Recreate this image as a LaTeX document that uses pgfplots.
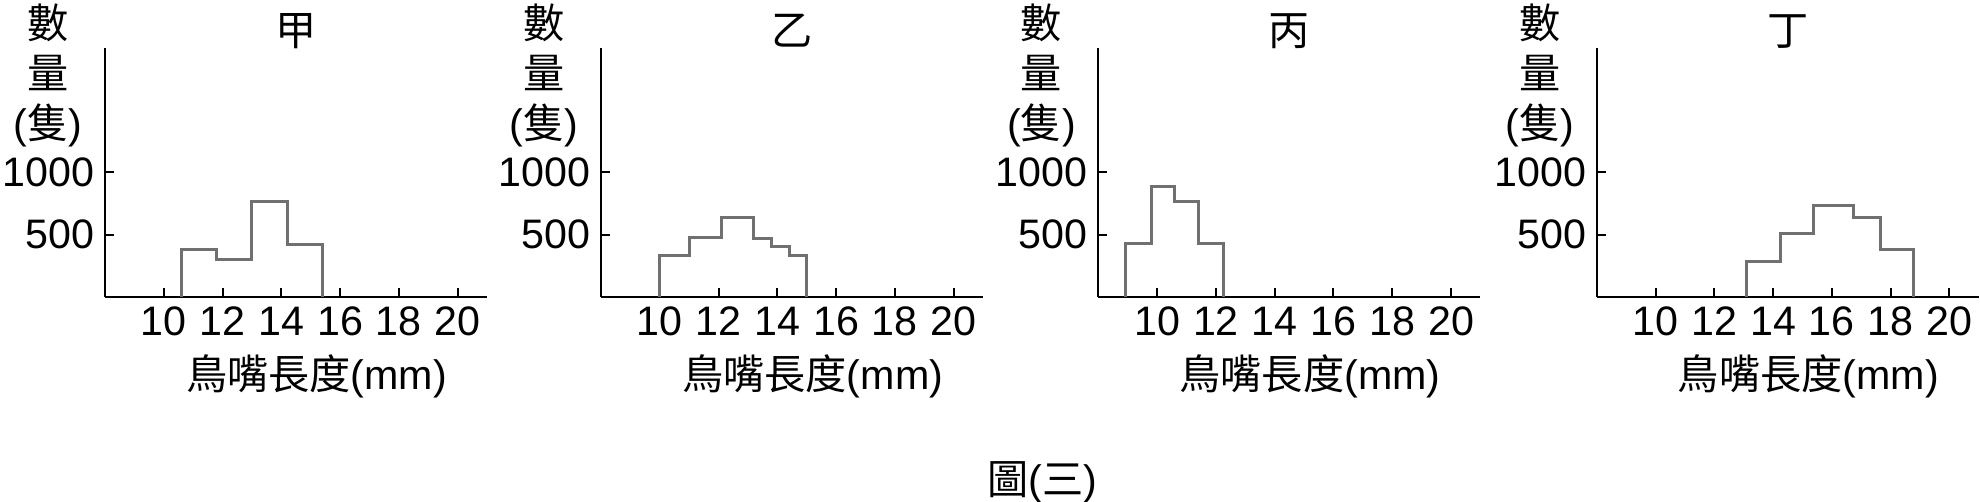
\documentclass[border=0pt]{standalone}
\usepackage{pgfplots}
\pgfplotsset{compat=1.18}
\usepackage{fontspec}
\setmainfont{Liberation Sans}
\newfontfamily\cjk{Noto Sans CJK TC}
\definecolor{stepgray}{RGB}{112,112,112}
\newcommand{\fs}{\fontsize{10.3}{12}\selectfont}
\pgfplotsset{
  panel/.style={
    anchor=south west,
    width=95.5pt, height=62.2pt, scale only axis,
    xmin=8, xmax=21, ymin=0, ymax=2000,
    axis x line*=bottom, axis y line*=left,
    axis line style={-, line width=0.5pt, black},
    xtick={10,12,14,16,18,20},
    xticklabels={10,12,14,16,18,20},
    ytick={500,1000},
    yticklabels={500,1000},
    tick align=inside,
    major tick length=2.2pt,
    tick style={black, line width=0.5pt},
    /pgf/number format/assume math mode=true,
    tick label style={font=\fs},
    xticklabel style={anchor=base, yshift=-9.6pt, inner sep=0pt},
    yticklabel style={anchor=east, xshift=-2.5pt, inner sep=0pt},
    clip=false,
  },
  hist/.style={const plot, color=stepgray, line width=0.75pt, line join=miter, mark=none},
}
\newcommand{\decor}[1]{%
  \node[anchor=base, inner sep=0pt, font=\fs\cjk] at (rel axis cs:0.5,1) [yshift=0.6pt] {#1};
  \node[anchor=base, inner sep=0pt, font=\fs\cjk] at (rel axis cs:0,1) [xshift=-14.25pt, yshift=2.3pt] {數};
  \node[anchor=base, inner sep=0pt, font=\fs\cjk] at (rel axis cs:0,1) [xshift=-14.25pt, yshift=-10.2pt] {量};
  \node[anchor=base, inner sep=0pt, font=\fs] at (rel axis cs:0,1) [xshift=-14.25pt, yshift=-22.7pt] {(\cjk 隻\rmfamily)};
  \node[anchor=base, inner sep=0pt, font=\fs] at (rel axis cs:0,0) [xshift=52.9pt, yshift=-23.2pt] {{\cjk 鳥嘴長度}(mm)};
}
\begin{document}
\begin{tikzpicture}
\useasboundingbox (0,0) rectangle (495pt,125.5pt);
\begin{axis}[panel, at={(26.25pt,51.3pt)}]
\addplot[hist] coordinates {(10.6,0) (10.6,380) (11.8,300) (13.0,765) (14.2,422) (15.4,0)};
\decor{甲}
\end{axis}
\begin{axis}[panel, at={(150.25pt,51.3pt)}]
\addplot[hist] coordinates {(10.0,0) (10.0,328) (11.0,476) (12.1,636) (13.2,470) (13.8,402) (14.4,332) (15.0,0)};
\decor{乙}
\end{axis}
\begin{axis}[panel, at={(274.6pt,51.3pt)}]
\addplot[hist] coordinates {(8.93,0) (8.93,428) (9.79,890) (10.6,765) (11.42,425) (12.26,0)};
\decor{丙}
\end{axis}
\begin{axis}[panel, at={(399.2pt,51.3pt)}]
\addplot[hist] coordinates {(13.08,0) (13.08,286) (14.25,508) (15.36,735) (16.75,634) (17.65,382) (18.79,0)};
\decor{丁}
\end{axis}
\node[anchor=base, inner sep=0pt, font=\fs] at (260.5pt,1.8pt) {{\cjk 圖}(\cjk 三\rmfamily)};
\end{tikzpicture}
\end{document}
